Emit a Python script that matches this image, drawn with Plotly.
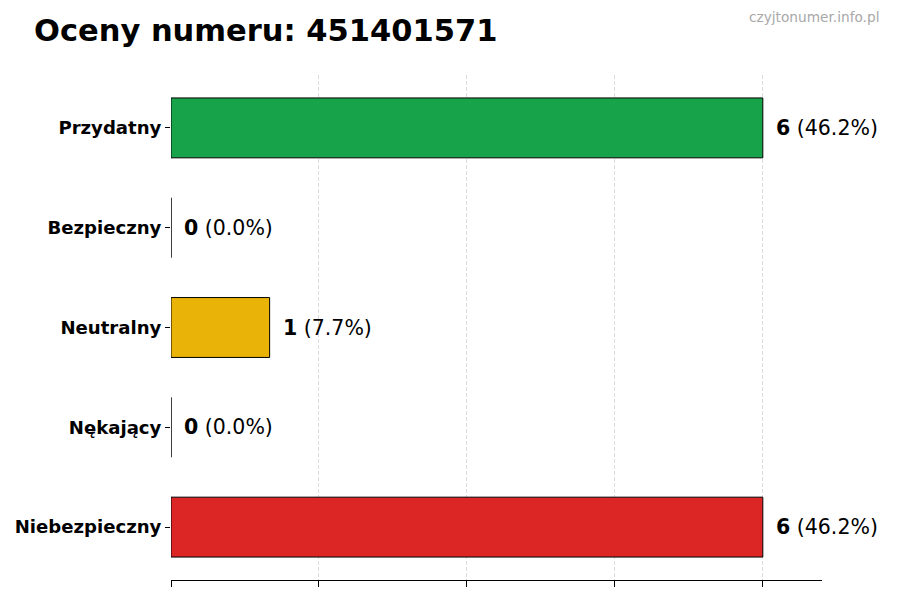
import plotly.graph_objects as go

categories = ["Przydatny", "Bezpieczny", "Neutralny", "Nękający", "Niebezpieczny"]
counts = [6, 0, 1, 0, 6]
colors = ["#16a34a", "#16a34a", "#eab308", "#dc2626", "#dc2626"]
title_text = "Oceny numeru: 451401571"
watermark = "czyjtonumer.info.pl"

total = sum(counts)
FONT = "DejaVu Sans"

L, R, T, B = 171, 78, 75, 20
PW, PH = 900 - L - R, 600 - T - B

fig = go.Figure()
fig.add_trace(go.Bar(
    x=counts, y=categories, orientation="h", width=0.6,
    marker=dict(color=colors, line=dict(color="black", width=1)),
    hoverinfo="skip",
))

for c, v in zip(categories, counts):
    pct = v / total * 100
    fig.add_annotation(
        x=v, y=c, xref="x", yref="y", xanchor="left", yanchor="middle",
        xshift=11, showarrow=False,
        text=f"<b>{v}</b> ({pct:.1f}%)",
        font=dict(family=FONT, size=20.5, color="black"),
    )

fig.update_layout(
    width=900, height=600,
    paper_bgcolor="white", plot_bgcolor="white",
    margin=dict(l=L, r=R, t=T, b=B),
    showlegend=False,
    font=dict(family=FONT, color="black"),
    xaxis=dict(
        range=[0, 6.6], tickvals=[0, 1.5, 3, 4.5, 6], showticklabels=False,
        ticks="outside", ticklen=6, tickcolor="black",
        showgrid=True, gridcolor="#dcdcdc", griddash="4px,2px", gridwidth=1,
        showline=True, linecolor="black", linewidth=1.2, zeroline=False,
    ),
    yaxis=dict(
        categoryorder="array", categoryarray=categories,
        autorange=False, range=[4.53, -0.53],
        ticks="outside", ticklen=5, tickcolor="black",
        tickfont=dict(family=FONT, size=18.1, color="black", weight="bold"),
        showgrid=False, showline=False, zeroline=False,
    ),
)

fig.add_annotation(
    x=(32 - L) / PW, y=1 + (T - 31) / PH, xref="paper", yref="paper",
    xanchor="left", yanchor="middle", showarrow=False,
    text=f"<b>{title_text}</b>",
    font=dict(family=FONT, size=30.5, color="black"),
)
fig.add_annotation(
    x=(881 - L) / PW, y=1 + (T - 17) / PH, xref="paper", yref="paper",
    xanchor="right", yanchor="middle", showarrow=False,
    text=watermark,
    font=dict(family=FONT, size=13.7, color="#a8a8a8"),
)

fig.write_html("out.html", config={"displayModeBar": False})

with open("out.html", "r", encoding="utf-8") as f:
    html = f.read()
html = html.replace("<head>", "<head><style>html,body{margin:0;padding:0;}</style>", 1)
with open("out.html", "w", encoding="utf-8") as f:
    f.write(html)
